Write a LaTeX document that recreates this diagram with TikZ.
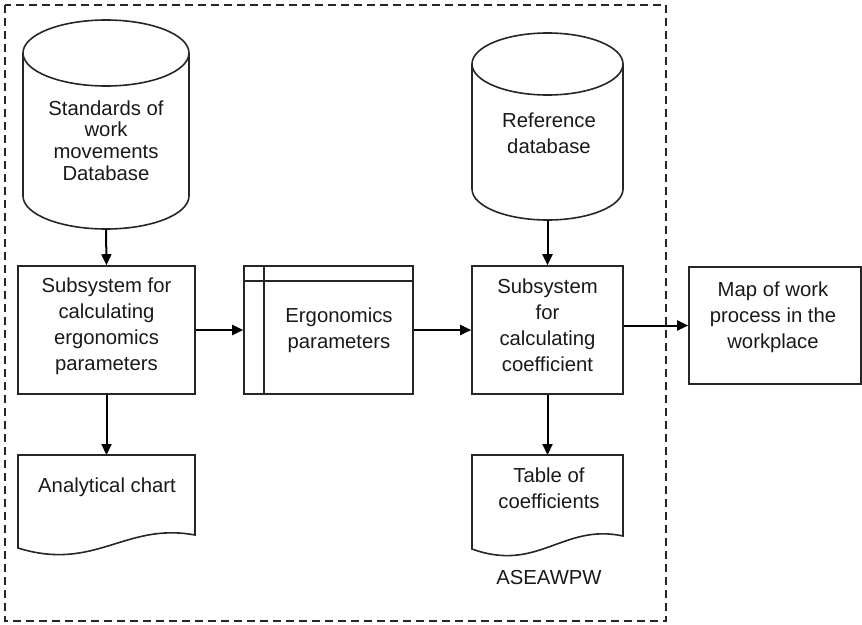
\documentclass[tikz,border=0pt]{standalone}
\usepackage{fontspec}
\setmainfont{Liberation Sans}
\usetikzlibrary{arrows.meta,calc}
\begin{document}
\begin{tikzpicture}[x=1pt,y=-1pt,
  shapeline/.style={draw=black!85, line width=1.6pt},
  boxnode/.style={shapeline, rectangle, inner sep=0pt, minimum width=#1},
  ghost/.style={rectangle, draw=none, inner sep=0pt, outer sep=0pt},
  txt/.style={align=center, inner sep=0pt, text=black!90, font=\fontsize{20.3}{26}\selectfont},
  flow/.style={line width=2pt, black, -{Triangle[length=11pt,width=10pt]}},
  frame/.style={line width=1.5pt, black!85, dash pattern=on 8pt off 5pt}]
\useasboundingbox (0,0) rectangle (862,624);

% dashed system frame
\draw[frame] (5,5) rectangle (666,621);

% cylinders (named outlines)
\node[ghost, minimum width=166pt, minimum height=209pt] (c1) at (106,124.5) {};
\node[ghost, minimum width=151pt, minimum height=187pt] (c2) at (547.5,126.5) {};
\draw[shapeline] ($(c1.north)+(0,33)$) ellipse [x radius=83pt, y radius=33pt];
\draw[shapeline] ($(c1.north west)+(0,33)$) -- ($(c1.south west)+(0,-33)$)
  arc[start angle=180, end angle=360, x radius=83pt, y radius=33pt]
  -- ($(c1.north east)+(0,33)$);
\draw[shapeline] ($(c2.north)+(0,31)$) ellipse [x radius=75.5pt, y radius=31pt];
\draw[shapeline] ($(c2.north west)+(0,31)$) -- ($(c2.south west)+(0,-31)$)
  arc[start angle=180, end angle=360, x radius=75.5pt, y radius=31pt]
  -- ($(c2.north east)+(0,31)$);
\node[txt, font=\fontsize{20.3}{21.7}\selectfont] (c1t) at (106,140.5) {Standards of\\work\\movements\\Database};
\node[txt] (c2t) at (549,133) {Reference\\database};

% process boxes
\node[boxnode=177pt, minimum height=128pt] (b1) at (106.5,330) {};
\node[boxnode=169pt, minimum height=128pt] (erg) at (328.5,330) {};
\node[boxnode=151pt, minimum height=128pt] (b3) at (547.5,330) {};
\node[boxnode=172pt, minimum height=117pt] (map) at (775,325.5) {};
\draw[shapeline] ([yshift=-16pt]erg.north west) -- ([yshift=-16pt]erg.north east);
\draw[shapeline] ([xshift=21pt]erg.north west) -- ([xshift=21pt]erg.south west);
\node[txt] (b1t) at (106.5,326) {Subsystem for\\calculating\\ergonomics\\parameters};
\node[txt] (ergt) at (339,330) {Ergonomics\\parameters};
\node[txt] (b3t) at (547.5,325.5) {Subsystem\\for\\calculating\\coefficient};
\node[txt] (mapt) at (773,317) {Map of work\\process in the\\workplace};

% documents
\node[ghost, minimum width=177pt, minimum height=93pt] (d1) at (106.5,501.5) {};
\node[ghost, minimum width=151pt, minimum height=94pt] (d2) at (547.5,502) {};
\draw[shapeline, line join=miter] (d1.south west) -- (d1.north west) -- (d1.north east)
  -- ($(d1.south east)+(0,-13)$)
  .. controls +(-70,-13) and +(77,24) .. (d1.south west) -- cycle;
\draw[shapeline, line join=miter] (d2.south west) -- (d2.north west) -- (d2.north east)
  -- ($(d2.south east)+(0,-13)$)
  .. controls +(-60,-13) and +(66,24) .. (d2.south west) -- cycle;
\node[txt] (d1t) at (107,487) {Analytical chart};
\node[txt] (d2t) at (549,488.5) {Table of\\coefficients};
\node[txt] (sys) at (549,578) {ASEAWPW};

% connectors
\draw[flow] (c1.south) -- (b1.north);
\draw[flow] (c2.south) -- (b3.north);
\draw[flow] (b1.east) -- (erg.west);
\draw[flow] (erg.east) -- (b3.west);
\draw[flow] (b3.east |- map.west) -- (map.west);
\draw[flow] (b1.south) -- (d1.north);
\draw[flow] (b3.south) -- (d2.north);
\end{tikzpicture}
\end{document}
